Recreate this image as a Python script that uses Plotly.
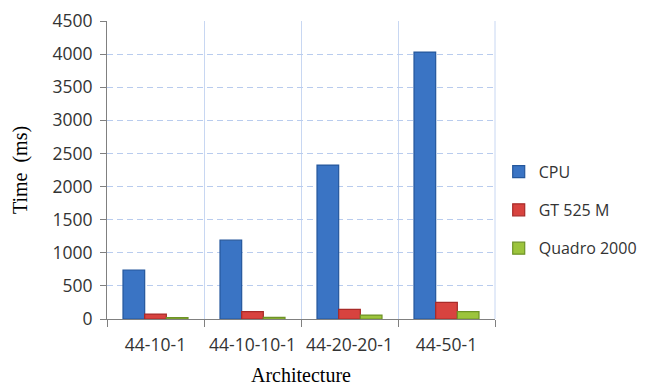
import plotly.graph_objects as go

# Training time per network architecture on each device (ms)
architectures = ["44-10-1", "44-10-10-1", "44-20-20-1", "44-50-1"]
cpu_ms = [740, 1190, 2325, 4030]
gt525m_ms = [75, 110, 145, 252]
quadro2000_ms = [20, 25, 60, 110]

y_ticks = [0, 500, 1000, 1500, 2000, 2500, 3000, 3500, 4000, 4500]

series = [
    ("CPU", cpu_ms, "#3A74C4", "#24579C"),
    ("GT 525 M", gt525m_ms, "#D8433F", "#A82A28"),
    ("Quadro 2000", quadro2000_ms, "#9CC43C", "#6E9326"),
]

fig = go.Figure()
for i, (name, vals, fill, edge) in enumerate(series):
    fig.add_trace(go.Bar(
        x=architectures,
        y=vals,
        name=name,
        legendgroup=f"g{i}",
        marker=dict(color=fill, line=dict(color=edge, width=1.2)),
    ))

tick_font = dict(family="Open Sans", size=17.5, color="#333333")
title_font = dict(family="Liberation Serif", size=20, color="#000000")

# light blue frame line on the right edge of the plotting area
fig.add_shape(
    type="line", xref="paper", yref="paper",
    x0=1, x1=1, y0=0, y1=1,
    line=dict(color="#C8D7F2", width=1),
    layer="below",
)

fig.update_layout(
    width=646,
    height=387,
    margin=dict(l=107, r=151, t=21, b=68),
    paper_bgcolor="white",
    plot_bgcolor="white",
    barmode="group",
    bargap=0.33,
    bargroupgap=0,
    showlegend=True,
    legend=dict(
        xref="container", yref="container",
        x=0.772, xanchor="left",
        y=0.457, yanchor="middle",
        font=dict(family="Open Sans", size=16, color="#333333"),
        traceorder="grouped",
        tracegroupgap=14.5,
        itemwidth=30,
        bgcolor="rgba(0,0,0,0)",
    ),
    xaxis=dict(
        type="category",
        automargin=False,
        tickangle=0,
        title=dict(text="Architecture", font=title_font, standoff=12),
        tickfont=tick_font,
        ticklabelstandoff=10,
        tickson="boundaries",
        ticks="outside",
        ticklen=7,
        tickcolor="#808080",
        showline=True,
        linecolor="#808080",
        linewidth=1,
        showgrid=True,
        gridcolor="#C8D7F2",
        gridwidth=1,
    ),
    yaxis=dict(
        automargin=False,
        title=dict(text="Time  (ms)", font=title_font, standoff=19),
        tickfont=tick_font,
        ticklabelstandoff=4,
        range=[0, 4500],
        tickvals=y_ticks,
        ticks="outside",
        ticklen=6,
        tickcolor="#808080",
        showline=True,
        linecolor="#808080",
        linewidth=1,
        showgrid=True,
        gridcolor="#B9CCEE",
        griddash="6px,4px",
        zeroline=False,
    ),
)

fig.write_html("out.html")
